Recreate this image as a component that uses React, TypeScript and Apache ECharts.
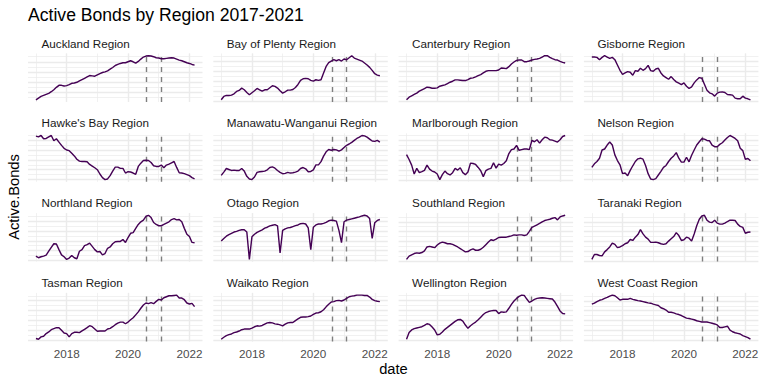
import React, { useEffect, useRef } from "react";
import * as echarts from "echarts";

const chartTitle = "Active Bonds by Region 2017-2021";
const xAxisTitle = "date";
const yAxisTitle = "Active.Bonds";
const firstYear = 2017;
const monthCount = 63; // Jan 2017 .. Mar 2022, monthly
const eventDates = [2020.6, 2021.07];

const regions = [
  "Auckland Region", "Bay of Plenty Region", "Canterbury Region", "Gisborne Region",
  "Hawke's Bay Region", "Manawatu-Wanganui Region", "Marlborough Region", "Nelson Region",
  "Northland Region", "Otago Region", "Southland Region", "Taranaki Region",
  "Tasman Region", "Waikato Region", "Wellington Region", "West Coast Region",
];

const auckland = [7,12,17,20,23,26,31,37,44,50,50,48,49,52,56,57,59,63,67,71,75,79,78,77,81,85,88,90,93,98,103,109,112,115,117,117,120,123,120,116,121,128,134,137,138,137,135,132,131,129,129,130,131,132,131,128,125,123,120,117,115,112,110];
const bayOfPlenty = [5,15,18,18,19,23,30,33,40,35,27,20,26,32,39,35,31,35,35,41,47,45,40,32,25,29,34,34,36,42,51,63,68,69,68,63,61,65,63,65,85,105,116,121,125,122,125,121,127,125,131,137,130,127,124,121,115,109,102,93,83,79,77];
const canterbury = [5,13,17,21,25,31,35,39,43,42,40,40,41,46,48,50,54,58,61,65,65,64,63,63,66,70,71,74,78,81,86,91,93,93,93,93,95,101,100,99,105,113,119,124,125,125,120,120,122,125,127,128,130,134,138,138,133,129,126,125,121,118,116];
const gisborne = [133,133,132,125,132,137,133,129,132,125,109,93,81,85,89,87,78,92,90,99,93,98,108,92,90,97,99,85,76,71,66,74,65,58,54,50,55,45,38,43,55,64,71,69,51,33,25,22,15,24,27,28,26,20,19,18,9,7,7,15,9,7,4];
const hawkesBay = [132,130,134,124,125,130,134,118,124,114,104,95,90,88,80,72,62,56,55,55,54,46,41,36,30,17,6,0,2,12,26,38,38,34,34,20,24,23,20,16,40,50,58,59,58,52,42,40,40,44,36,44,47,51,55,37,21,20,18,15,12,6,2];
const manawatu = [13,23,34,31,28,29,28,28,34,26,10,2,0,8,22,24,25,26,30,37,39,35,28,22,18,19,22,20,21,23,26,34,37,33,24,25,30,45,45,55,72,85,92,90,92,91,87,91,98,105,109,114,120,126,130,135,134,130,124,118,117,120,115];
const marlborough = [77,62,45,18,35,22,25,29,45,33,27,24,18,1,16,27,19,15,22,35,30,37,22,16,24,51,50,47,38,28,10,28,33,35,52,36,48,45,50,58,80,92,94,105,90,92,94,94,92,120,116,122,112,122,130,128,122,121,118,115,122,132,135];
const nelson = [37,48,55,65,90,93,105,114,105,75,58,45,18,20,12,28,42,55,63,65,62,43,18,2,0,3,14,25,37,43,55,65,72,82,65,53,53,68,54,74,90,105,115,124,123,119,118,105,100,100,107,112,120,128,134,130,125,118,95,88,62,64,57];
const northland = [13,8,11,13,16,28,40,51,50,33,17,11,3,7,15,8,5,28,33,45,48,53,43,33,26,27,17,21,37,41,51,57,58,58,64,55,70,83,85,98,110,118,123,135,138,131,116,110,106,106,110,114,118,125,128,124,125,118,98,80,73,55,54];
const otago = [60,68,75,80,84,88,90,93,95,95,88,3,73,81,87,91,95,100,103,107,109,111,107,23,93,98,101,102,105,108,110,114,115,113,101,33,103,110,113,113,115,118,123,125,124,122,93,55,120,125,127,129,131,133,135,138,140,138,130,68,117,124,127];
const southland = [5,15,19,23,25,24,26,31,43,45,43,41,49,55,58,56,53,53,51,47,43,38,33,28,29,34,37,33,33,36,42,50,58,65,63,67,72,73,73,73,75,77,80,79,80,80,78,80,91,103,107,111,115,120,124,126,128,131,133,126,135,138,140];
const taranaki = [5,20,20,17,16,28,35,43,55,51,41,43,47,53,56,66,63,73,81,96,83,73,67,57,57,58,56,53,51,53,61,68,75,87,78,63,65,73,70,61,83,108,128,138,140,125,119,118,125,116,113,113,116,121,125,125,124,113,106,103,85,88,89];
const tasman = [5,3,10,12,20,25,32,35,38,38,30,22,20,10,20,24,24,23,28,33,38,44,41,34,27,28,28,28,34,36,41,47,52,55,55,50,55,62,68,77,86,97,107,113,111,114,111,118,124,122,129,132,135,135,136,137,128,128,123,113,110,112,102];
const waikato = [2,8,13,16,18,22,24,27,31,33,33,33,36,40,43,42,44,48,52,53,52,49,48,46,43,48,52,53,53,59,64,69,70,70,71,73,78,82,83,86,92,101,109,116,117,120,121,119,122,127,132,134,135,137,137,137,136,136,131,124,120,118,117];
const wellington = [2,22,30,34,36,38,40,44,49,47,39,30,15,17,24,32,38,44,50,56,61,62,57,45,35,43,49,54,61,69,77,83,86,88,89,89,80,85,84,85,96,108,118,126,132,136,135,124,114,118,123,126,127,128,127,126,125,124,115,102,88,80,79];
const westCoast = [110,113,118,122,124,128,131,135,138,136,130,123,125,125,125,128,125,123,121,120,118,116,114,113,110,108,106,99,96,92,85,85,83,80,78,75,71,67,66,64,62,59,57,55,55,55,53,51,49,46,38,38,40,42,30,25,22,20,18,13,10,7,2];

const regionValues = [
  auckland, bayOfPlenty, canterbury, gisborne,
  hawkesBay, manawatu, marlborough, nelson,
  northland, otago, southland, taranaki,
  tasman, waikato, wellington, westCoast,
];

const months = Array.from({ length: monthCount }, (_, i) => firstYear + i / 12);

const FONT = "'Liberation Sans', Arial, Helvetica, sans-serif";

export default function App() {
  const ref = useRef<HTMLDivElement>(null);
  useEffect(() => {
    if (!ref.current) return;
    const chart = echarts.init(ref.current, undefined, { renderer: "svg" });

    const L0 = 28, colStep = 185.3, W = 174.5;
    const T0 = 53.5, rowStep = 79.8, H = 48.5;

    const xFirst = months[0], xLast = months[months.length - 1];
    const xPad = (xLast - xFirst) * 0.05;
    const xMin = xFirst - xPad, xMax = xLast + xPad;

    const grid: any[] = [];
    const xAxis: any[] = [];
    const yAxis: any[] = [];
    const series: any[] = [];
    const graphic: any[] = [];

    graphic.push({
      type: "text", x: 28, y: 15,
      style: { text: chartTitle, fontSize: 17.6, fontFamily: FONT, fill: "#000", textVerticalAlign: "middle", textAlign: "left" },
    });
    graphic.push({
      type: "text", x: 393.5, y: 368.5,
      style: { text: xAxisTitle, fontSize: 14.7, fontFamily: FONT, fill: "#000", textVerticalAlign: "middle", textAlign: "center" },
    });
    graphic.push({
      type: "text", x: 14, y: 197, rotation: Math.PI / 2,
      style: { text: yAxisTitle, fontSize: 14.7, fontFamily: FONT, fill: "#000", textVerticalAlign: "middle", textAlign: "center" },
    });

    regions.forEach((name, k) => {
      const r = Math.floor(k / 4), c = k % 4;
      const left = L0 + c * colStep;
      const top = T0 + r * rowStep;
      grid.push({ left, top, width: W, height: H });

      graphic.push({
        type: "text", x: left + 13.5, y: top - 10.5,
        style: { text: name, fontSize: 11.7, fontFamily: FONT, fill: "#1a1a1a", textVerticalAlign: "middle", textAlign: "left" },
      });

      const vals = regionValues[k];
      const vMin = Math.min(...vals), vMax = Math.max(...vals);
      const yPad = (vMax - vMin) * 0.05;

      // major x axis (data + labels)
      xAxis.push({
        type: "value", gridIndex: k, min: xMin, max: xMax, splitNumber: 3,
        axisLine: { show: false }, axisTick: { show: false },
        axisLabel: {
          show: r === 3, showMinLabel: false, showMaxLabel: false,
          color: "#4d4d4d", fontSize: 11.7, fontFamily: FONT, margin: 6,
          formatter: (v: number) => String(Math.round(v)),
        },
        splitLine: { show: true, showMinLine: false, showMaxLine: false, lineStyle: { color: "#ebebeb", width: 1.42 } },
      });
      // minor x axis (yearly grid only)
      xAxis.push({
        type: "value", gridIndex: k, min: xMin, max: xMax, splitNumber: 6,
        axisLine: { show: false }, axisTick: { show: false }, axisLabel: { show: false },
        splitLine: { show: true, showMinLine: false, showMaxLine: false, lineStyle: { color: "#ebebeb", width: 0.71 } },
      });
      yAxis.push({
        type: "value", gridIndex: k, min: vMin - yPad, max: vMax + yPad, splitNumber: 5,
        axisLine: { show: false }, axisTick: { show: false }, axisLabel: { show: false },
        splitLine: { show: true, showMinLine: false, showMaxLine: false, lineStyle: { color: "#ebebeb", width: 1.42 } },
        minorTick: { show: false, splitNumber: 2 },
        minorSplitLine: { show: true, lineStyle: { color: "#ebebeb", width: 0.71 } },
      });

      series.push({
        type: "line", name, xAxisIndex: 2 * k, yAxisIndex: k,
        data: months.map((m, i) => [m, vals[i]]),
        showSymbol: false, symbol: "none",
        lineStyle: { color: "#440154", width: 1.42 },
        itemStyle: { color: "#440154" },
        z: 3,
        markLine: {
          silent: true, symbol: ["none", "none"], label: { show: false },
          lineStyle: { color: "#7f7f7f", width: 1.4, type: [5, 5] },
          data: eventDates.map((d) => ({ xAxis: d })),
          z: 2,
        },
      });
    });

    chart.setOption({
      animation: false,
      backgroundColor: "#ffffff",
      grid, xAxis, yAxis, series, graphic,
    });

    return () => chart.dispose();
  }, []);

  return (
    <div
      ref={ref}
      style={{ position: "fixed", left: 0, top: 0, width: 768, height: 384, background: "#fff" }}
    />
  );
}
